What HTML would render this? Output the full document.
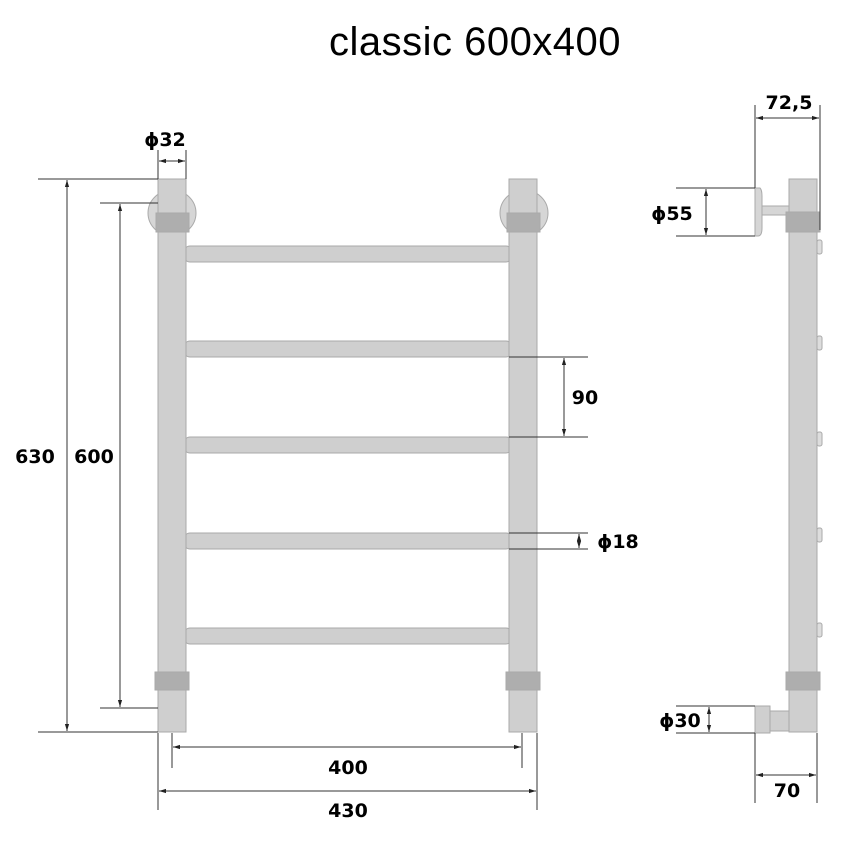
<!DOCTYPE html>
<html><head><meta charset="utf-8"><style>
html,body{margin:0;padding:0;background:#fff;width:850px;height:850px;overflow:hidden}
text{font-family:"DejaVu Sans","Liberation Sans",sans-serif;fill:#000}
.d{font-weight:bold;font-size:19px}
</style></head><body>
<svg width="850" height="850" viewBox="0 0 850 850" xmlns="http://www.w3.org/2000/svg">
<defs>
<marker id="a" viewBox="0 0 10 10" refX="10" refY="5" markerWidth="7" markerHeight="7" orient="auto-start-reverse"><path d="M0,2 L10,5 L0,8 z" fill="#222"/></marker>
</defs>
<text x="475" y="55" text-anchor="middle" style="font-size:40px;letter-spacing:0.5px;font-family:'Liberation Sans',sans-serif">classic 600x400</text>

<g stroke="#aaa" stroke-width="1">
<ellipse cx="172" cy="213" rx="24" ry="23" fill="#d6d6d6"/>
<ellipse cx="524" cy="213" rx="24" ry="23" fill="#d6d6d6"/>
<rect x="184" y="246" width="328" height="16" rx="6" fill="#cfcfcf"/>
<rect x="184" y="341" width="328" height="16" rx="6" fill="#cfcfcf"/>
<rect x="184" y="437" width="328" height="16" rx="6" fill="#cfcfcf"/>
<rect x="184" y="533" width="328" height="16" rx="6" fill="#cfcfcf"/>
<rect x="184" y="628" width="328" height="16" rx="6" fill="#cfcfcf"/>
<rect x="158" y="179" width="28" height="553" fill="#cfcfcf"/>
<rect x="509" y="179" width="28" height="553" fill="#cfcfcf"/>
<rect x="156" y="213" width="33" height="19" fill="#aeaeae"/>
<rect x="507" y="213" width="33" height="19" fill="#aeaeae"/>
<rect x="155" y="672" width="34" height="18" fill="#aeaeae"/>
<rect x="506" y="672" width="34" height="18" fill="#aeaeae"/>
<path d="M755,188 L760,188 Q762,190 762,196 L762,228 Q762,236 758,236 L755,236 Z" fill="#d6d6d6"/>
<rect x="762" y="206" width="27" height="9" fill="#d6d6d6"/>
<rect x="817" y="240" width="5" height="14" rx="2" fill="#ddd"/>
<rect x="817" y="336" width="5" height="14" rx="2" fill="#ddd"/>
<rect x="817" y="432" width="5" height="14" rx="2" fill="#ddd"/>
<rect x="817" y="528" width="5" height="14" rx="2" fill="#ddd"/>
<rect x="817" y="623" width="5" height="14" rx="2" fill="#ddd"/>
<rect x="789" y="179" width="28" height="553" fill="#cfcfcf"/>
<rect x="786" y="212" width="34" height="20" fill="#aeaeae"/>
<rect x="786" y="672" width="34" height="18" fill="#aeaeae"/>
<rect x="770" y="711" width="19" height="20" fill="#cfcfcf"/>
<rect x="755" y="706" width="15" height="27" fill="#cfcfcf"/>
</g>

<g stroke="#333" stroke-width="1" fill="none">
<line x1="38" y1="179" x2="158" y2="179"/><line x1="38" y1="732" x2="158" y2="732"/>
<line x1="67" y1="180" x2="67" y2="731" marker-start="url(#a)" marker-end="url(#a)"/>
<line x1="100" y1="203" x2="158" y2="203"/><line x1="100" y1="708" x2="158" y2="708"/>
<line x1="120" y1="204" x2="120" y2="707" marker-start="url(#a)" marker-end="url(#a)"/>
<line x1="158" y1="150" x2="158" y2="179"/><line x1="186" y1="150" x2="186" y2="179"/>
<line x1="159" y1="161" x2="185" y2="161" marker-start="url(#a)" marker-end="url(#a)"/>
<line x1="172" y1="733" x2="172" y2="768"/><line x1="522" y1="733" x2="522" y2="768"/>
<line x1="173" y1="747" x2="521" y2="747" marker-start="url(#a)" marker-end="url(#a)"/>
<line x1="158" y1="733" x2="158" y2="810"/><line x1="537" y1="733" x2="537" y2="810"/>
<line x1="159" y1="791" x2="536" y2="791" marker-start="url(#a)" marker-end="url(#a)"/>
<line x1="509" y1="357" x2="588" y2="357"/><line x1="509" y1="437" x2="588" y2="437"/>
<line x1="564" y1="358" x2="564" y2="436" marker-start="url(#a)" marker-end="url(#a)"/>
<line x1="509" y1="533" x2="588" y2="533"/><line x1="509" y1="549" x2="588" y2="549"/>
<line x1="579" y1="534" x2="579" y2="548" marker-start="url(#a)" marker-end="url(#a)"/>
<line x1="755" y1="105" x2="755" y2="188"/><line x1="820" y1="105" x2="820" y2="230"/>
<line x1="756" y1="118" x2="819" y2="118" marker-start="url(#a)" marker-end="url(#a)"/>
<line x1="676" y1="188" x2="755" y2="188"/><line x1="676" y1="236" x2="755" y2="236"/>
<line x1="706" y1="189" x2="706" y2="235" marker-start="url(#a)" marker-end="url(#a)"/>
<line x1="676" y1="706" x2="755" y2="706"/><line x1="676" y1="733" x2="755" y2="733"/>
<line x1="709" y1="707" x2="709" y2="732" marker-start="url(#a)" marker-end="url(#a)"/>
<line x1="755" y1="733" x2="755" y2="803"/><line x1="817" y1="733" x2="817" y2="803"/>
<line x1="756" y1="775" x2="816" y2="775" marker-start="url(#a)" marker-end="url(#a)"/>
</g>

<text class="d" x="35" y="463" text-anchor="middle">630</text>
<text class="d" x="94" y="463" text-anchor="middle">600</text>
<text class="d" x="165" y="146" text-anchor="middle">ϕ32</text>
<text class="d" x="348" y="774" text-anchor="middle">400</text>
<text class="d" x="348" y="817" text-anchor="middle">430</text>
<text class="d" x="585" y="404" text-anchor="middle">90</text>
<text class="d" x="618" y="548" text-anchor="middle">ϕ18</text>
<text class="d" x="789" y="109" text-anchor="middle">72,5</text>
<text class="d" x="672" y="220" text-anchor="middle">ϕ55</text>
<text class="d" x="680" y="727" text-anchor="middle">ϕ30</text>
<text class="d" x="787" y="797" text-anchor="middle">70</text>
</svg>
</body></html>
